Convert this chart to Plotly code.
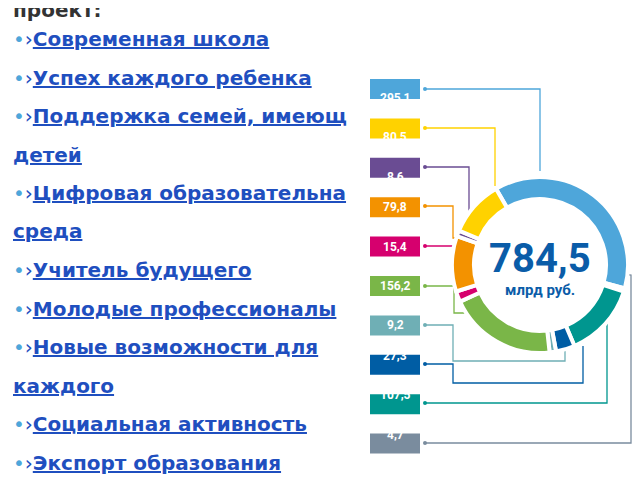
import plotly.graph_objects as go

values = [295.1, 4.7, 107.5, 27.3, 9.2, 156.2, 15.4, 79.8, 8.6, 80.5]
colors = ["#4EA6DA", "#7A8C9E", "#00968F", "#005DA4", "#6FAFB5", "#7AB648",
          "#D6006E", "#F39200", "#6A4C93", "#FFD200"]
box_values = ["295,1", "80,5", "8,6", "79,8", "15,4", "156,2", "9,2", "27,3", "107,5", "4,7"]
box_colors = ["#4EA6DA", "#FFD200", "#6A4C93", "#F39200", "#D6006E", "#7AB648",
              "#6FAFB5", "#005DA4", "#00968F", "#7A8C9E"]
items = ["Современная школа", "Успех каждого ребенка", "Поддержка семей, имеющ", None,
         "Цифровая образовательна", None, "Учитель будущего", "Молодые профессионалы",
         "Новые возможности для", None, "Социальная активность", "Экспорт образования"]
conts = {3: "детей", 5: "среда", 9: "каждого"}
total = "784,5"

W, H = 640, 480
px = lambda x: x / W
py = lambda y: 1 - y / H

fig = go.Figure(go.Pie(values=values, marker=dict(colors=colors, line=dict(color="white", width=4)),
                       hole=0.75, sort=False, direction="clockwise", rotation=-30,
                       textinfo="none", hoverinfo="none",
                       domain=dict(x=[px(444), px(620)], y=[py(345), py(169)])))

ann = []
shapes = []
ann.append(dict(x=px(3), y=py(2), text="<b>проект:</b>", showarrow=False, xanchor="left", yanchor="middle",
                font=dict(family="DejaVu Sans", size=20, color="#333333")))
ly0, dly = 31, 38.5
for i, t in enumerate(items):
    y = ly0 + i * dly
    if t is None:
        txt = "<b><span style='text-decoration:underline'>%s</span></b>" % conts[i]
    else:
        txt = "<span style='color:#4EA6DA'>•</span>›<b><span style='text-decoration:underline'>%s</span></b>" % t
    ann.append(dict(x=px(3), y=py(y), text=txt, showarrow=False, xanchor="left", yanchor="middle",
                    font=dict(family="DejaVu Sans", size=20, color="#1F4FBF")))

by0, dby = 81, 39.4
for i, (v, c) in enumerate(zip(box_values, box_colors)):
    y = by0 + i * dby
    shapes.append(dict(type="rect", xref="paper", yref="paper", x0=px(362), x1=px(412), layer="below",
                       y0=py(y - 10), y1=py(y + 10), fillcolor=c, line=dict(width=0)))
    ann.append(dict(x=px(387), y=py(y), text="<b>%s</b>" % v, showarrow=False, xanchor="center",
                    font=dict(family="Roboto", size=12, color="white")))

paths = [
    [(417, 81), (532, 81), (532, 163)],
    [(417, 120), (487, 120), (487, 178)],
    [(417, 159), (461, 159), (461, 208)],
    [(417, 198), (445, 198), (445, 230), (455, 230)],
    [(417, 238), (450, 238), (450, 267), (456, 267)],
    [(417, 278), (446, 278), (446, 305), (460, 305)],
    [(417, 317), (445, 317), (445, 353), (557, 353), (557, 343)],
    [(417, 356), (445, 356), (445, 375), (575, 375), (575, 338)],
    [(417, 395), (599, 395), (599, 310)],
    [(417, 435), (623, 435), (623, 267), (598, 264)],
]
for p, c in zip(paths, box_colors):
    d = "M " + " L ".join("%f,%f" % (px(x), py(y)) for x, y in p)
    shapes.append(dict(type="path", xref="paper", yref="paper", path=d, layer="below",
                       line=dict(color=c, width=1.3)))
    x, y = p[0]
    shapes.append(dict(type="circle", xref="paper", yref="paper", x0=px(x - 2), x1=px(x + 2),
                       y0=py(y - 2), y1=py(y + 2), fillcolor=c, line=dict(width=0)))

ann.append(dict(x=px(532), y=py(250), text="<b>%s</b>" % total, showarrow=False, xanchor="center",
                font=dict(family="Roboto", size=40, color="#0A5CA8")))
ann.append(dict(x=px(532), y=py(282), text="<b>млрд руб.</b>", showarrow=False, xanchor="center",
                font=dict(family="Roboto", size=15, color="#0A5CA8")))

fig.update_layout(width=W, height=H, margin=dict(l=0, r=0, t=0, b=0), showlegend=False,
                  paper_bgcolor="white", annotations=ann, shapes=shapes)
fig.write_html("out.html")
